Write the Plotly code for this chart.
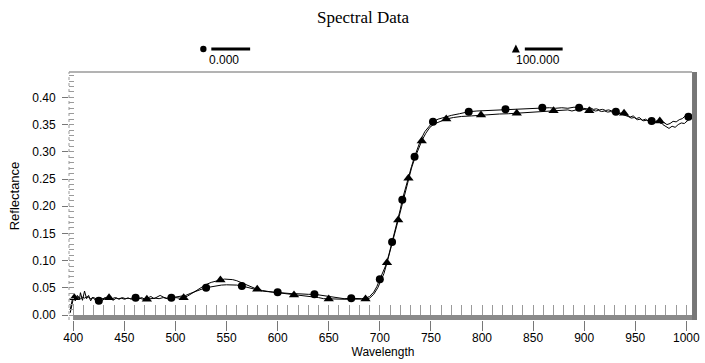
import plotly.graph_objects as go

# ---- spectra: wavelength (nm) and reflectance ----
wl_a = [397, 399, 400, 402, 404, 406, 407, 409, 411, 413, 415, 417, 419, 421, 423, 425,
        427, 429, 431, 433, 436, 439, 442, 445, 448, 451, 454, 457, 461, 464, 467, 470,
        473, 476, 479, 482, 485, 488, 491, 496, 500, 505, 510, 515, 520, 525, 530, 535,
        540, 545, 550, 555, 560, 565, 570, 575, 580, 585, 590, 595, 600, 605, 610, 615,
        620, 625, 630, 636, 640, 645, 650, 655, 660, 665, 672, 677, 682, 686, 690, 694,
        697, 700, 703, 706, 709, 712, 715, 718, 720, 722, 725, 728, 731, 734, 737, 740,
        744, 748, 752, 757, 762, 770, 778, 787, 795, 805, 815, 823, 832, 840, 850, 859,
        866, 872, 878, 884, 890, 895, 899, 903, 906, 909, 912, 915, 918, 921, 924, 927,
        931, 934, 937, 940, 943, 946, 949, 952, 955, 958, 961, 966, 969, 972, 975, 978,
        981, 984, 987, 990, 993, 996, 999, 1002, 1005, 1008]
refl_a = [0.004, 0.022, 0.030, 0.026, 0.036, 0.028, 0.041, 0.027, 0.044, 0.030, 0.036, 0.026,
          0.033, 0.028, 0.031, 0.0263, 0.030, 0.027, 0.032, 0.028, 0.031, 0.027, 0.031, 0.029,
          0.032, 0.030, 0.031, 0.029, 0.0318, 0.030, 0.032, 0.029, 0.031, 0.034, 0.030, 0.033,
          0.036, 0.033, 0.031, 0.0318, 0.033, 0.034, 0.036, 0.040, 0.044, 0.047, 0.0502, 0.052,
          0.054, 0.055, 0.0555, 0.0555, 0.055, 0.0533, 0.051, 0.048, 0.046, 0.044, 0.043, 0.042,
          0.0417, 0.041, 0.040, 0.039, 0.039, 0.038, 0.038, 0.0381, 0.037, 0.035, 0.033, 0.032,
          0.031, 0.030, 0.0307, 0.030, 0.030, 0.031, 0.034, 0.042, 0.052, 0.0656, 0.078, 0.092,
          0.112, 0.134, 0.155, 0.178, 0.194, 0.212, 0.233, 0.255, 0.273, 0.291, 0.307, 0.322,
          0.337, 0.347, 0.3553, 0.360, 0.363, 0.367, 0.370, 0.3737, 0.375, 0.376, 0.377, 0.378,
          0.379, 0.3795, 0.380, 0.381, 0.381, 0.380, 0.381, 0.380, 0.382, 0.381, 0.380, 0.379,
          0.381, 0.378, 0.379, 0.377, 0.378, 0.376, 0.377, 0.375, 0.3737, 0.371, 0.369, 0.367,
          0.365, 0.362, 0.363, 0.359, 0.360, 0.357, 0.358, 0.3566, 0.354, 0.356, 0.352, 0.354,
          0.350, 0.352, 0.356, 0.355, 0.359, 0.361, 0.366, 0.3645, 0.361, 0.358]

wl_b = [397, 399, 401, 403, 405, 407, 409, 411, 414, 417, 420, 423, 426, 429, 432, 435,
        438, 441, 444, 447, 450, 453, 456, 459, 462, 465, 468, 472, 476, 480, 484, 488,
        492, 496, 500, 504, 508, 512, 516, 520, 525, 530, 535, 540, 544, 548, 552, 556,
        560, 565, 570, 575, 580, 585, 590, 595, 600, 605, 610, 616, 620, 625, 630, 635,
        640, 645, 650, 655, 660, 665, 670, 675, 680, 686, 690, 694, 698, 701, 704, 707,
        710, 713, 716, 718, 721, 724, 728, 731, 734, 737, 741, 745, 749, 753, 758, 765,
        772, 780, 790, 799, 808, 817, 826, 834, 843, 852, 861, 870, 878, 884, 888, 892,
        896, 900, 905, 908, 911, 914, 917, 920, 923, 926, 929, 933, 936, 939, 942, 945,
        948, 951, 954, 957, 960, 963, 966, 969, 971, 974, 977, 980, 983, 986, 989, 992,
        995, 998, 1001, 1004, 1007, 1009]
refl_b = [0.010, 0.028, 0.0318, 0.031, 0.034, 0.029, 0.033, 0.031, 0.034, 0.030, 0.032, 0.029,
          0.031, 0.030, 0.032, 0.0318, 0.030, 0.032, 0.030, 0.031, 0.029, 0.031, 0.030, 0.032,
          0.030, 0.031, 0.029, 0.0289, 0.030, 0.031, 0.030, 0.032, 0.030, 0.031, 0.032, 0.031,
          0.0318, 0.035, 0.040, 0.045, 0.051, 0.056, 0.060, 0.063, 0.0643, 0.066, 0.066, 0.065,
          0.063, 0.059, 0.054, 0.050, 0.0472, 0.045, 0.043, 0.042, 0.041, 0.040, 0.038, 0.0368,
          0.036, 0.035, 0.034, 0.033, 0.032, 0.030, 0.0294, 0.029, 0.029, 0.029, 0.029, 0.029,
          0.029, 0.0294, 0.031, 0.038, 0.050, 0.062, 0.076, 0.096, 0.116, 0.137, 0.160, 0.1746,
          0.197, 0.220, 0.2513, 0.270, 0.287, 0.302, 0.320, 0.334, 0.345, 0.351, 0.355, 0.3603,
          0.363, 0.365, 0.366, 0.3676, 0.369, 0.3695, 0.370, 0.3708, 0.372, 0.373, 0.374, 0.3755,
          0.376, 0.377, 0.375, 0.377, 0.376, 0.378, 0.3755, 0.377, 0.375, 0.376, 0.374, 0.375,
          0.373, 0.374, 0.372, 0.372, 0.371, 0.3708, 0.367, 0.364, 0.366, 0.361, 0.363, 0.358,
          0.360, 0.356, 0.358, 0.354, 0.357, 0.3566, 0.350, 0.346, 0.343, 0.347, 0.345, 0.350,
          0.353, 0.352, 0.358, 0.362, 0.365, 0.364]

# wavelengths that carry a symbol on each curve
marks_a = [425, 461, 496, 530, 565, 600, 636, 672, 700, 712, 722, 734, 752, 787, 823,
           859, 895, 931, 966, 1002]
marks_b = [401, 435, 472, 508, 544, 580, 616, 650, 686, 707, 718, 728, 741, 765, 799,
           834, 870, 905, 939, 974]

series_names = ["0.000", "100.000"]
x_ticks = [400, 450, 500, 550, 600, 650, 700, 750, 800, 850, 900, 950, 1000]
y_ticks = [0.00, 0.05, 0.10, 0.15, 0.20, 0.25, 0.30, 0.35, 0.40]

# ---- geometry (pixels) ----
W, H = 705, 363
L, R, T, B = 69, 5, 72, 43
PW, PH = W - L - R, H - T - B
X_RANGE = [395.8, 1010.4]
Y_RANGE = [-0.0092, 0.4467]


def px(x):
    return (x - L) / PW


def py(y):
    return (H - B - y) / PH


def pick(wl, vals, marks):
    lookup = dict(zip(wl, vals))
    return marks, [lookup[m] for m in marks]


fig = go.Figure()

for wl, vals, marks, sym, size in [(wl_a, refl_a, marks_a, "circle", 8),
                                   (wl_b, refl_b, marks_b, "triangle-up", 9)]:
    fig.add_trace(go.Scatter(x=wl, y=vals, mode="lines",
                             line=dict(color="black", width=1), showlegend=False))
    mx, my = pick(wl, vals, marks)
    fig.add_trace(go.Scatter(x=mx, y=my, mode="markers",
                             marker=dict(symbol=sym, size=size, color="black",
                                         line=dict(width=0)),
                             showlegend=False))

# carrier for the inner tick axes
fig.add_trace(go.Scatter(x=[None], y=[None], xaxis="x2", yaxis="y2", showlegend=False))

tick_font = dict(family="Liberation Sans, Arial", size=12, color="black")

fig.update_layout(
    width=W, height=H,
    margin=dict(l=L, r=R, t=T, b=B),
    paper_bgcolor="white", plot_bgcolor="white",
    xaxis=dict(range=X_RANGE, tickvals=x_ticks, ticks="outside", ticklen=10,
               tickcolor="#777", tickwidth=1, showgrid=False, zeroline=False,
               showline=False, tickfont=tick_font, ticklabelstandoff=-3,
               title=dict(text="Wavelength", font=tick_font, standoff=0)),
    xaxis2=dict(overlaying="x", matches="x", anchor="y", side="bottom",
                tick0=400, dtick=10, ticks="inside", ticklen=15, tickcolor="#9a9a9a",
                tickwidth=1, showticklabels=False, showgrid=False, zeroline=False,
                showline=False),
    yaxis=dict(range=Y_RANGE, tickvals=y_ticks,
               ticktext=[f"{v:.2f}" for v in y_ticks], ticks="outside", ticklen=6,
               tickcolor="#777", tickwidth=1, showgrid=False, zeroline=False,
               showline=False, tickfont=tick_font, ticklabelstandoff=4,
               title=dict(text="Reflectance", font=dict(family="Liberation Sans, Arial",
                                                       size=13, color="black"),
                          standoff=9)),
    yaxis2=dict(overlaying="y", matches="y", anchor="x", side="left",
                tick0=0, dtick=0.01, ticks="inside", ticklen=5, tickcolor="#9a9a9a",
                tickwidth=1, showticklabels=False, showgrid=False, zeroline=False,
                showline=False),
)

shapes = [
    # frame: bottom band, right shadow, top and left borders
    dict(type="rect", xref="x", yref="y", x0=400, x1=X_RANGE[1], y0=Y_RANGE[0], y1=0,
         fillcolor="#8a8a8a", line=dict(width=0), layer="above"),
    dict(type="rect", xref="paper", yref="paper", x0=px(695), x1=1, y0=0, y1=1,
         fillcolor="#777777", line=dict(width=0), layer="above"),
    dict(type="line", xref="paper", yref="paper", x0=0, x1=px(695), y0=1, y1=1,
         line=dict(color="#9a9a9a", width=1.5), layer="above"),
    dict(type="line", xref="paper", yref="paper", x0=0, x1=0, y0=0, y1=1,
         line=dict(color="#9a9a9a", width=1, dash="dot"), layer="above"),
    # key above the plot
    dict(type="circle", xref="paper", yref="paper", x0=px(200.8), x1=px(207.2),
         y0=py(52.2), y1=py(45.8), fillcolor="black", line=dict(width=0)),
    dict(type="line", xref="paper", yref="paper", x0=px(212), x1=px(251),
         y0=py(49), y1=py(49), line=dict(color="black", width=3)),
    dict(type="path", xref="paper", yref="paper",
         path=(f"M {px(518)} {py(44.5)} L {px(514)} {py(52.5)} "
               f"L {px(522)} {py(52.5)} Z"),
         fillcolor="black", line=dict(width=0)),
    dict(type="line", xref="paper", yref="paper", x0=px(527), x1=px(565),
         y0=py(49), y1=py(49), line=dict(color="black", width=3)),
]
fig.update_layout(shapes=shapes)

annotations = [
    dict(text=series_names[0], xref="paper", yref="paper", x=px(225), y=py(60),
         showarrow=False, font=tick_font, xanchor="center", yanchor="middle"),
    dict(text=series_names[1], xref="paper", yref="paper", x=px(540), y=py(60),
         showarrow=False, font=tick_font, xanchor="center", yanchor="middle"),
    dict(text="Spectral Data", xref="paper", yref="paper", x=px(364), y=py(17),
         showarrow=False, xanchor="center", yanchor="middle",
         font=dict(family="Liberation Serif, Times New Roman", size=17, color="black")),
]
fig.update_layout(annotations=annotations)

fig.write_html("out.html")
